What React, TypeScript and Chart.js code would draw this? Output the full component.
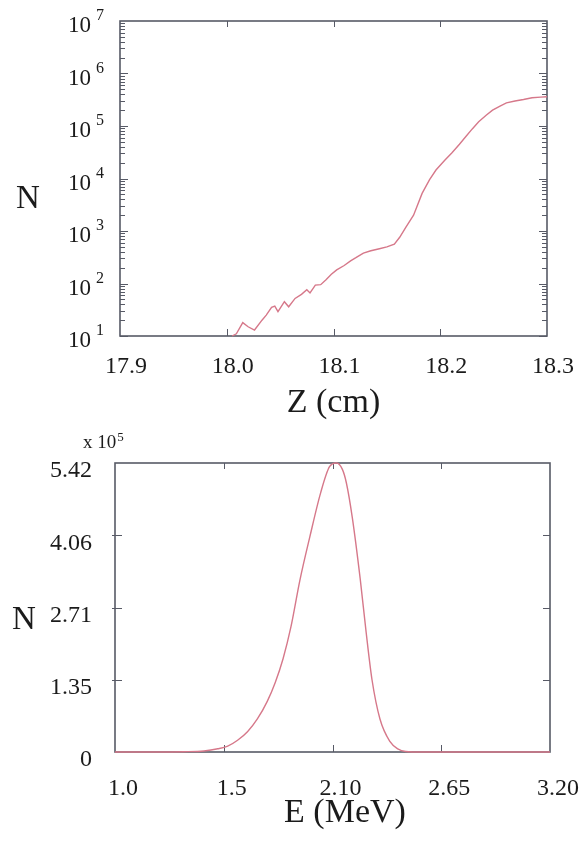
import React, { useEffect, useRef } from 'react';
import { Chart, registerables } from 'chart.js';

Chart.register(...registerables);

// ---------- Top chart: N vs Z (log scale) ----------
const zValues = [18.005, 18.009, 18.015, 18.020, 18.026, 18.033, 18.037, 18.042, 18.045, 18.048, 18.054, 18.058, 18.064, 18.070, 18.075, 18.078, 18.083, 18.088, 18.093, 18.098, 18.103, 18.110, 18.116, 18.121, 18.128, 18.135, 18.143, 18.150, 18.157, 18.162, 18.168, 18.175, 18.183, 18.190, 18.196, 18.204, 18.211, 18.218, 18.224, 18.230, 18.236, 18.243, 18.249, 18.256, 18.262, 18.270, 18.278, 18.286, 18.294, 18.300];
const nValues = [10, 11, 18, 15, 13, 20, 25, 35, 37, 29, 45, 36, 52, 62, 76, 66, 93, 95, 118, 150, 182, 220, 270, 310, 380, 420, 460, 500, 560, 760, 1200, 2000, 5200, 9500, 14500, 22000, 31000, 45000, 63000, 88000, 120000, 160000, 200000, 240000, 275000, 300000, 320000, 345000, 355000, 360000];
const zTickValues = [17.9, 18.0, 18.1, 18.2, 18.3];
const zTickLabels = ['17.9', '18.0', '18.1', '18.2', '18.3'];
const nExponents = [1, 2, 3, 4, 5, 6, 7];

// ---------- Bottom chart: N (x10^5) vs E ----------
const eValues = [1.0, 1.2, 1.35, 1.45, 1.52, 1.57, 1.62, 1.67, 1.72, 1.77, 1.81, 1.85, 1.89, 1.935, 1.985, 2.04, 2.085, 2.12, 2.15, 2.17, 2.20, 2.24, 2.27, 2.30, 2.34, 2.39, 2.43, 2.47, 2.55, 3.2];
const eCounts = [0, 0, 0.005, 0.02, 0.06, 0.11, 0.22, 0.38, 0.62, 0.95, 1.30, 1.75, 2.35, 3.22, 4.03, 4.86, 5.35, 5.42, 5.30, 5.05, 4.40, 3.25, 2.25, 1.35, 0.62, 0.20, 0.06, 0.01, 0, 0];
const eTickValues = [1.0, 1.55, 2.1, 2.65, 3.2];
const eTickLabels = ['1.0', '1.5', '2.10', '2.65', '3.20'];
const countTickValues = [0, 1.355, 2.71, 4.065, 5.42];
const countTickLabels = ['0', '1.35', '2.71', '4.06', '5.42'];

const FONT = "'Liberation Serif', 'Times New Roman', serif";
const FRAME = '#575a66';
const CURVE = '#d6788a';
const TEXT = '#1b1b1b';

const topDecor = {
  id: 'topDecor',
  beforeDatasetsDraw(chart: any) {
    const { ctx, chartArea: a, scales } = chart;
    const x = scales.x, y = scales.y;
    ctx.save();
    ctx.strokeStyle = FRAME;
    ctx.lineWidth = 1.6;
    ctx.strokeRect(a.left, a.top, a.right - a.left, a.bottom - a.top);
    ctx.lineWidth = 1;
    ctx.beginPath();
    for (const v of zTickValues.slice(1, -1)) {
      const px = Math.round(x.getPixelForValue(v)) + 0.5;
      ctx.moveTo(px, a.bottom); ctx.lineTo(px, a.bottom - 7);
      ctx.moveTo(px, a.top); ctx.lineTo(px, a.top + 6);
    }
    for (const e of nExponents.slice(0, -1)) {
      for (let m = 1; m <= 9; m++) {
        const py = Math.round(y.getPixelForValue(m * Math.pow(10, e))) + 0.5;
        const L = m === 1 ? 8 : 5;
        ctx.moveTo(a.left, py); ctx.lineTo(a.left + L, py);
        ctx.moveTo(a.right, py); ctx.lineTo(a.right - L, py);
      }
    }
    ctx.stroke();
    ctx.restore();
  },
  afterDraw(chart: any) {
    const { ctx, scales } = chart;
    const y = scales.y;
    ctx.save();
    ctx.fillStyle = TEXT;
    for (const e of nExponents) {
      const py = y.getPixelForValue(Math.pow(10, e));
      ctx.font = `23px ${FONT}`;
      ctx.textAlign = 'right';
      ctx.textBaseline = 'middle';
      ctx.fillText('10', 91, py + 5);
      ctx.font = `16px ${FONT}`;
      ctx.textAlign = 'left';
      ctx.fillText(String(e), 96, py - 5);
    }
    ctx.font = `33px ${FONT}`;
    ctx.textAlign = 'center';
    ctx.textBaseline = 'middle';
    ctx.fillText('N', 28, 199);
    ctx.restore();
  },
};

const bottomDecor = {
  id: 'bottomDecor',
  beforeDatasetsDraw(chart: any) {
    const { ctx, chartArea: a, scales } = chart;
    const x = scales.x, y = scales.y;
    ctx.save();
    ctx.strokeStyle = FRAME;
    ctx.lineWidth = 1.6;
    ctx.strokeRect(a.left, a.top, a.right - a.left, a.bottom - a.top);
    ctx.lineWidth = 1;
    ctx.beginPath();
    for (const v of eTickValues.slice(1, -1)) {
      const px = Math.round(x.getPixelForValue(v)) + 0.5;
      ctx.moveTo(px, a.bottom); ctx.lineTo(px, a.bottom - 7);
      ctx.moveTo(px, a.top); ctx.lineTo(px, a.top + 6);
    }
    for (const v of countTickValues.slice(1, -1)) {
      const py = Math.round(y.getPixelForValue(v)) + 0.5;
      ctx.moveTo(a.left - 3, py); ctx.lineTo(a.left + 7, py);
      ctx.moveTo(a.right, py); ctx.lineTo(a.right - 7, py);
    }
    ctx.stroke();
    ctx.restore();
  },
  afterDraw(chart: any) {
    const { ctx } = chart;
    ctx.save();
    ctx.fillStyle = TEXT;
    ctx.textBaseline = 'alphabetic';
    ctx.textAlign = 'left';
    ctx.font = `19px ${FONT}`;
    ctx.fillText('x 10', 83, 28);
    const w = ctx.measureText('x 10').width;
    ctx.font = `13px ${FONT}`;
    ctx.fillText('5', 83 + w + 1, 21);
    ctx.font = `33px ${FONT}`;
    ctx.textAlign = 'center';
    ctx.textBaseline = 'middle';
    ctx.fillText('N', 24, 200);
    ctx.font = `34px ${FONT}`;
    ctx.fillText('E (MeV)', 345, 393);
    ctx.restore();
  },
};

const zeroPad = (s: any) => { s.paddingLeft = 0; s.paddingRight = 0; s.paddingTop = 0; s.paddingBottom = 0; };

export default function App() {
  const topRef = useRef<HTMLCanvasElement>(null);
  const bottomRef = useRef<HTMLCanvasElement>(null);

  useEffect(() => {
    const topChart = new Chart(topRef.current as HTMLCanvasElement, {
      type: 'line',
      data: {
        datasets: [{
          data: zValues.map((z, i) => ({ x: z, y: nValues[i] })),
          borderColor: CURVE,
          borderWidth: 1.4,
          pointRadius: 0,
          tension: 0,
          fill: false,
          clip: false as any,
        }],
      },
      options: {
        responsive: false,
        maintainAspectRatio: false,
        animation: false,
        layout: { padding: { left: 0, right: 39, top: 21, bottom: 0 } },
        plugins: { legend: { display: false }, tooltip: { enabled: false } },
        scales: {
          x: {
            type: 'linear',
            min: 17.9,
            max: 18.3,
            afterBuildTicks: (s: any) => { s.ticks = zTickValues.map((v) => ({ value: v })); },
            afterFit: (s: any) => { s.height = 84; zeroPad(s); },
            grid: { display: false },
            border: { display: false },
            ticks: {
              autoSkip: false,
              maxRotation: 0,
              padding: 11,
              labelOffset: 6,
              color: TEXT,
              font: { family: FONT, size: 24, lineHeight: 1 },
              callback: (_v: any, i: number) => zTickLabels[i],
            },
            title: {
              display: true,
              text: 'Z (cm)',
              color: TEXT,
              font: { family: FONT, size: 34, lineHeight: 1 },
              padding: { top: 0, bottom: 0 },
            },
          },
          y: {
            type: 'logarithmic',
            min: 10,
            max: 1e7,
            afterFit: (s: any) => { s.width = 120; zeroPad(s); },
            grid: { display: false },
            border: { display: false },
            ticks: { display: false },
          },
        },
      },
      plugins: [topDecor],
    });

    const bottomChart = new Chart(bottomRef.current as HTMLCanvasElement, {
      type: 'line',
      data: {
        datasets: [{
          data: eValues.map((e, i) => ({ x: e, y: eCounts[i] })),
          borderColor: CURVE,
          borderWidth: 1.4,
          pointRadius: 0,
          cubicInterpolationMode: 'monotone',
          fill: false,
          clip: false as any,
        }],
      },
      options: {
        responsive: false,
        maintainAspectRatio: false,
        animation: false,
        layout: { padding: { left: 0, right: 36, top: 43, bottom: 0 } },
        plugins: { legend: { display: false }, tooltip: { enabled: false } },
        scales: {
          x: {
            type: 'linear',
            min: 1.0,
            max: 3.2,
            afterBuildTicks: (s: any) => { s.ticks = eTickValues.map((v) => ({ value: v })); },
            afterFit: (s: any) => { s.height = 97; zeroPad(s); },
            grid: { display: false },
            border: { display: false },
            ticks: {
              autoSkip: false,
              maxRotation: 0,
              padding: 17,
              labelOffset: 8,
              color: TEXT,
              font: { family: FONT, size: 24, lineHeight: 1 },
              callback: (_v: any, i: number) => eTickLabels[i],
            },
          },
          y: {
            type: 'linear',
            min: 0,
            max: 5.42,
            afterBuildTicks: (s: any) => { s.ticks = countTickValues.map((v) => ({ value: v })); },
            afterFit: (s: any) => { s.width = 115; zeroPad(s); },
            grid: { display: false },
            border: { display: false },
            ticks: {
              autoSkip: false,
              padding: 15,
              labelOffset: 8,
              color: TEXT,
              font: { family: FONT, size: 24, lineHeight: 1 },
              callback: (_v: any, i: number) => countTickLabels[i],
            },
          },
        },
      },
      plugins: [bottomDecor],
    });

    return () => {
      topChart.destroy();
      bottomChart.destroy();
    };
  }, []);

  return (
    <div style={{ position: 'absolute', left: 0, top: 0, width: 586, height: 849, background: '#fff' }}>
      <canvas ref={topRef} width={586} height={420} style={{ position: 'absolute', left: 0, top: 0, display: 'block' }} />
      <canvas ref={bottomRef} width={586} height={429} style={{ position: 'absolute', left: 0, top: 420, display: 'block' }} />
    </div>
  );
}
